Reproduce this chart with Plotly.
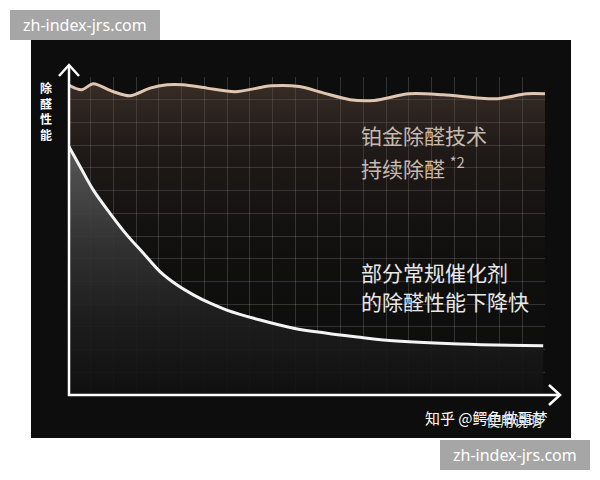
import plotly.graph_objects as go

# curve data, in grid units (21 columns x 14 rows)
platinum_x = [0, 0.60, 1.11, 1.98, 2.73, 3.61, 4.36, 5.07, 6.12, 7.36, 8.94, 10.18,
              11.23, 12.42, 13.48, 15.02, 16.52, 18.81, 20.18, 21.0]
platinum_y = [13.66, 13.44, 13.70, 13.36, 13.17, 13.51, 13.66, 13.66, 13.51, 13.35, 13.61, 13.58,
              13.30, 13.00, 12.97, 13.26, 13.22, 13.04, 13.26, 13.26]

catalyst_x = [0, 0.53, 1.11, 1.85, 2.59, 3.32, 4.05, 4.79, 5.52, 6.26, 6.99, 8.46,
              9.93, 11.40, 12.86, 13.88, 17.22, 20.92]
catalyst_y = [11.01, 10.06, 9.03, 8.00, 7.05, 6.24, 5.43, 4.85, 4.41, 4.04, 3.74, 3.30,
              2.94, 2.72, 2.54, 2.42, 2.25, 2.17]

y_label = ['除', '醛', '性', '能']
platinum_text = ['铂金除醛技术', '持续除醛 <sup>*2</sup>']
catalyst_text = ['部分常规催化剂', '的除醛性能下降快']
site_mark = 'zh-index-jrs.com'
zhihu_mark = '知乎 @鳄鱼做噩梦'
overlay_mark = '使用说明'

W, H = 600, 480
OFF = 8  # page body margin
L, R, T, B = 60, 63, 69, 93
PW, PH = W - L - R, H - T - B


# page pixel -> paper coords
def PX(x):
    return (x - OFF - L) / PW


def PY(y):
    return (H - B - (y - OFF)) / PH


cjk = 'Noto Sans CJK SC'

fig = go.Figure()

fig.add_trace(go.Scatter(
    x=platinum_x, y=platinum_y, mode='lines',
    line=dict(color='#e0c5b0', width=3, shape='spline', smoothing=0.8),
    fill='tozeroy',
    fillgradient=dict(type='vertical',
                      colorscale=[[0, 'rgba(60,45,40,0)'], [0.45, 'rgba(70,52,44,0.06)'],
                                  [0.8, 'rgba(90,68,58,0.25)'], [1, 'rgba(110,84,70,0.45)']]),
    hoverinfo='skip'))

fig.add_trace(go.Scatter(
    x=catalyst_x, y=catalyst_y, mode='lines',
    line=dict(color='#f4f4f4', width=3, shape='spline', smoothing=1.0),
    fill='tozeroy',
    fillgradient=dict(type='vertical',
                      colorscale=[[0, 'rgba(16,16,16,0.92)'], [0.3, 'rgba(30,30,30,0.92)'],
                                  [0.6, 'rgba(52,52,52,0.92)'], [1, 'rgba(92,92,92,0.95)']]),
    hoverinfo='skip'))

shapes = []
# dark panel behind chart
shapes.append(dict(type='rect', xref='paper', yref='paper', layer='below',
                   x0=PX(31), x1=PX(571), y0=PY(438), y1=PY(40),
                   fillcolor='#0d0d0d', line=dict(width=0)))
# watermark boxes
for x0, y0 in [(10, 10), (440, 440)]:
    shapes.append(dict(type='rect', xref='paper', yref='paper',
                       x0=PX(x0), x1=PX(x0 + 150), y0=PY(y0 + 30), y1=PY(y0),
                       fillcolor='#a6a6a6', line=dict(width=0)))
# axes with open arrow heads
axis_line = dict(color='white', width=2.5)
shapes.append(dict(type='line', xref='paper', yref='paper',
                   x0=PX(69), x1=PX(69), y0=PY(396), y1=PY(66), line=axis_line))
shapes.append(dict(type='line', xref='paper', yref='paper',
                   x0=PX(68), x1=PX(559), y0=PY(395), y1=PY(395), line=axis_line))
shapes.append(dict(type='path', xref='paper', yref='paper', line=axis_line,
                   path='M %f %f L %f %f L %f %f' % (PX(59), PY(76), PX(69), PY(65), PX(79), PY(76))))
shapes.append(dict(type='path', xref='paper', yref='paper', line=axis_line,
                   path='M %f %f L %f %f L %f %f' % (PX(549), PY(385), PX(560), PY(395), PX(549), PY(405))))

annotations = []
annotations.append(dict(text='<b>' + '<br>'.join(y_label) + '</b>', xref='paper', yref='paper',
                        xanchor='center', yanchor='middle',
                        x=PX(45.5), y=PY(111), showarrow=False,
                        font=dict(family=cjk, size=12, color='white')))
for i, t in enumerate(platinum_text):
    annotations.append(dict(text=t, xref='paper', yref='paper', xanchor='left', yanchor='middle',
                            x=PX(359), y=PY(135 + i * 32), showarrow=False,
                            font=dict(family=cjk, size=21, color='#c6bab0')))
for i, t in enumerate(catalyst_text):
    annotations.append(dict(text=t, xref='paper', yref='paper', xanchor='left', yanchor='middle',
                            x=PX(359), y=PY(272 + i * 29), showarrow=False,
                            font=dict(family=cjk, size=21, color='#e8e8e8')))
for x0, y0 in [(10, 10), (440, 440)]:
    annotations.append(dict(text=site_mark, xref='paper', yref='paper',
                            xanchor='center', yanchor='middle',
                            x=PX(x0 + 75), y=PY(y0 + 15), showarrow=False,
                            font=dict(family='Noto Sans', size=16, color='white')))
annotations.append(dict(text=zhihu_mark, xref='paper', yref='paper', xanchor='left', yanchor='middle',
                        x=PX(423), y=PY(417), showarrow=False,
                        font=dict(family=cjk, size=15, color='white')))
annotations.append(dict(text=overlay_mark, xref='paper', yref='paper', xanchor='left', yanchor='middle',
                        x=PX(484), y=PY(420), showarrow=False,
                        font=dict(family=cjk, size=14, color='#e0e0e0')))

grid = 'rgba(255,255,255,0.16)'
fig.update_layout(
    width=W, height=H,
    margin=dict(l=L, r=R, t=T, b=B, pad=0),
    paper_bgcolor='white', plot_bgcolor='#060606',
    showlegend=False,
    shapes=shapes, annotations=annotations,
    xaxis=dict(range=[0, 21], dtick=1, showgrid=True, gridcolor=grid, gridwidth=1,
               zeroline=False, showticklabels=False, ticks='', showline=False, fixedrange=True),
    yaxis=dict(range=[0, 14], dtick=1, showgrid=True, gridcolor=grid, gridwidth=1,
               zeroline=False, showticklabels=False, ticks='', showline=False, fixedrange=True),
)

fig.write_html('out.html')
